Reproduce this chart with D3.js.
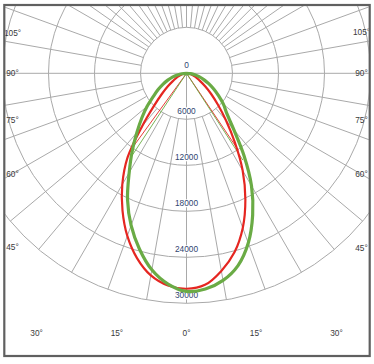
<!DOCTYPE html>
<html><head><meta charset="utf-8">
<script src="https://cdn.jsdelivr.net/npm/d3@7/dist/d3.min.js"></script>
<style>html,body{margin:0;padding:0;background:#fff;} svg{display:block;font-family:"Liberation Sans",Arial,sans-serif;}</style>
</head><body>
<script>
// gamma angles (0 = straight down, 90 = horizontal)
const angles = [0,5,10,15,20,25,30,35,40,45,50,55,60,65,70,75,80,85,90];
// red plane: left half and right half (cd)
const redLeft  = [28100,27780,26770,24950,22570,19750,16750,13400,9000,6000,4200,3000,2100,1500,1000,650,350,150,0];
const redRight = [28100,27700,26170,24170,21460,18170,14650,11000,8000,5800,4200,3000,2100,1500,1000,650,350,150,0];
// green plane: left half and right half (cd)
const greenLeft  = [28450,27600,26030,23720,21120,18200,14950,12330,10050,8250,6700,5300,4300,3400,2600,1900,1200,600,0];
const greenRight = [28450,28250,27430,25960,23560,20420,16960,13050,9600,7450,6300,5100,4100,3200,2400,1700,1100,550,0];
// thin straight traces (gamma, value) for each side
const redThinLeftAngles = [36, 90];
const redThinLeft = [12100, 0];
const redThinRightAngles = [34, 90];
const redThinRight = [12100, 0];
const greenThinLeftAngles = [33.5, 90];
const greenThinLeft = [12700, 0];
const greenThinRightAngles = [33, 90];
const greenThinRight = [13500, 0];

const ringValues = [6000,12000,18000,24000,30000];
const valueLabels = ["0","6000","12000","18000","24000","30000"];
const labelValues = [0,6000,12000,18000,24000,30000];
const spokeGammas = [0,10,20,30,40,50,60,70,80,90,100,110,120,125,130,135,140,145,150,155,160,165,170,175,180];
const angleLabels = [0,15,30,45,60,75,90,105];

const W=374,H=364;
const cx=186.5, cy=73.3;
const r = d3.scaleLinear().domain([0,30000]).range([0,230]);
const deg = Math.PI/180;

const svg = d3.select('body').append('svg').attr('width',W).attr('height',H);
svg.append('rect').attr('width',W).attr('height',H).attr('fill','#fff');
const fx0=5.3, fy0=6, fx1=368.7, fy1=355;
svg.append('defs').append('clipPath').attr('id','frame')
  .append('rect').attr('x',fx0).attr('y',fy0).attr('width',fx1-fx0).attr('height',fy1-fy0);

const g = svg.append('g').attr('clip-path','url(#frame)');
const plot = g.append('g').attr('transform',`translate(${cx},${cy})`);

const gridColor = '#a9a9a9';
plot.selectAll('circle.ring').data(ringValues).join('circle')
  .attr('r', d=>r(d)).attr('fill','none').attr('stroke',gridColor).attr('stroke-width',1);

const spokes = [];
spokeGammas.forEach(gm => { spokes.push({gm, s:1}); if (gm>0 && gm<180) spokes.push({gm, s:-1}); });
const innerR = d => (d.gm===90 || d.gm===0) ? 0 : r(ringValues[0]);
plot.selectAll('line.spoke').data(spokes).join('line')
  .attr('x1', d => d.s*innerR(d)*Math.sin(d.gm*deg))
  .attr('y1', d => innerR(d)*Math.cos(d.gm*deg))
  .attr('x2', d => d.s*r(30000)*Math.sin(d.gm*deg))
  .attr('y2', d => r(30000)*Math.cos(d.gm*deg))
  .attr('stroke',gridColor).attr('stroke-width',1);

// value labels with white backing
const vl = plot.selectAll('g.vl').data(labelValues).join('g');
vl.each(function(v,i){
  const gg = d3.select(this);
  const t = gg.append('text').attr('x',0).attr('y', r(v)-5)
    .attr('text-anchor','middle').attr('font-size','8.3px').attr('fill','#2f4470')
    .text(valueLabels[i]);
  const bb = t.node().getBBox();
  if (v>0) gg.insert('rect','text').attr('x',bb.x-0.5).attr('y',bb.y+1).attr('width',bb.width+1).attr('height',bb.height-2).attr('fill','#fff');
});

// angle labels placed where the ray meets the label box
const bx0 = 12.5-cx, bx1 = 361.5-cx, by1 = 333-cy;
function labelPos(a, side){
  const dx = Math.sin(a*deg)*side, dy = Math.cos(a*deg);
  let t = Infinity;
  if (dy>1e-6) t = Math.min(t, by1/dy);
  if (dx>1e-6) t = Math.min(t, bx1/dx);
  if (dx<-1e-6) t = Math.min(t, bx0/dx);
  return [dx*t, dy*t];
}
const alData = [];
angleLabels.forEach(a => { alData.push({a, side:-1}); if (a>0) alData.push({a, side:1}); });
plot.selectAll('text.al').data(alData).join('text')
  .attr('x', d=>labelPos(d.a,d.side)[0])
  .attr('y', d=>labelPos(d.a,d.side)[1] + (d.a>90 ? 9 : 3))
  .attr('text-anchor','middle').attr('font-size','8.3px').attr('fill','#3a3a3a')
  .text(d=>d.a+'°');

// curves
function closedPoints(left,right){
  const L = angles.map((gm,i)=>({a:Math.PI+gm*deg, v:left[i]})).reverse();
  const R = angles.slice(1).map((gm,i)=>({a:Math.PI-gm*deg, v:right[i+1]}));
  return L.concat(R);
}
function thin(angs, vals, side){ return angs.map((gm,i)=>({a:Math.PI - side*gm*deg, v:vals[i]})); }
const red = '#e52621', green = '#6aab45';
const straight = d3.lineRadial().angle(d=>d.a).radius(d=>r(d.v));
[[redThinLeftAngles,redThinLeft,-1,red],[redThinRightAngles,redThinRight,1,red],
 [greenThinLeftAngles,greenThinLeft,-1,green],[greenThinRightAngles,greenThinRight,1,green]].forEach(([a,v,s,c])=>{
  plot.append('path').attr('d', straight(thin(a,v,s)))
    .attr('fill','none').attr('stroke',c).attr('stroke-width',0.9);
});
const smooth = d3.lineRadial().angle(d=>d.a).radius(d=>r(d.v)).curve(d3.curveCatmullRom.alpha(0.5));
plot.append('path').attr('d', smooth(closedPoints(redLeft,redRight)))
  .attr('fill','none').attr('stroke',red).attr('stroke-width',2.2);
plot.append('path').attr('d', smooth(closedPoints(greenLeft,greenRight)))
  .attr('fill','none').attr('stroke',green).attr('stroke-width',3.2);

// frame
svg.append('rect').attr('x',(fx0-1)).attr('y',fy0-1).attr('width',fx1-fx0+2).attr('height',fy1-fy0+2)
  .attr('fill','none').attr('stroke','#606060').attr('stroke-width',2.2);
</script>
</body></html>
